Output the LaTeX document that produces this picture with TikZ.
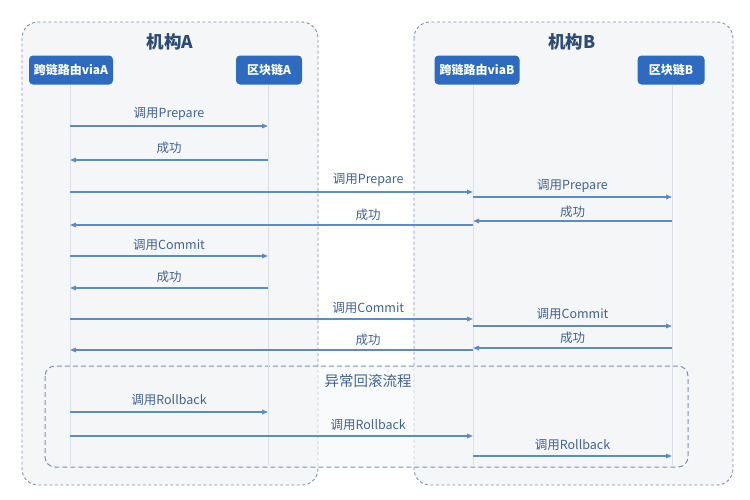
\documentclass[tikz,border=0pt]{standalone}
\usepackage{fontspec}
\setmainfont{Noto Sans CJK SC}
\usetikzlibrary{arrows.meta,calc}
\definecolor{boxfill}{HTML}{F5F6F8}
\definecolor{boxline}{HTML}{7E92AC}
\definecolor{nodeblue}{HTML}{2D6BC3}
\definecolor{arrowc}{HTML}{5A8CC6}
\definecolor{lblc}{HTML}{3F6396}
\definecolor{titlec}{HTML}{2C4C76}
\definecolor{lifec}{HTML}{DCE0E6}
\tikzset{
  orgbox/.style={draw=boxline, dash pattern=on 3pt off 2.5pt, fill=boxfill, rounded corners=16pt, line width=0.9pt},
  rbbox/.style={draw=boxline, dash pattern=on 5pt off 3pt, fill=boxfill, fill opacity=0.6, draw opacity=1, rounded corners=10pt, line width=1pt},
  actor/.style={fill=nodeblue, text=white, rounded corners=4pt, minimum height=29pt, inner sep=2pt, font=\fontsize{12}{14}\selectfont\bfseries},
  life/.style={draw=lifec, line width=0.8pt},
  msg/.style={draw=arrowc, line width=1.4pt, -{Triangle[length=6pt,width=4.5pt]}},
  lbl/.style={text=lblc, font=\fontsize{12.5}{14}\selectfont, inner sep=1pt},
  ttl/.style={text=titlec, font=\fontsize{17.5}{20}\selectfont\bfseries},
}
\begin{document}
\begin{tikzpicture}[x=1pt,y=-1pt]
\useasboundingbox (0,0) rectangle (750,499);
% organisation boxes
\draw[orgbox] (22,22) rectangle (318,485);
\draw[orgbox] (414,22) rectangle (733,485);
\node[ttl] (ta) at (170,42) {机构A};
\node[ttl] (tb) at (572,42) {机构B};
% rollback box
\draw[rbbox] (45,366) rectangle (688,467);
\node[lbl, font=\fontsize{14.5}{16}\selectfont] (rbt) at (368,381) {异常回滚流程};
% actors
\node[actor, minimum width=84pt] (ra) at (71,70) {跨链路由viaA};
\node[actor, minimum width=66pt] (ca) at (269,70) {区块链A};
\node[actor, minimum width=85pt] (rb) at (477,70) {跨链路由viaB};
\node[actor, minimum width=67pt] (cb) at (671,70) {区块链B};
% lifelines
\coordinate (ra-e) at (70,465);
\coordinate (ca-e) at (268,465);
\coordinate (rb-e) at (473,465);
\coordinate (cb-e) at (672,465);
\draw[life] (ra-e |- ra.south) -- (ra-e);
\draw[life] (ca-e |- ca.south) -- (ca-e);
\draw[life] (rb-e |- rb.south) -- (rb-e);
\draw[life] (cb-e |- cb.south) -- (cb-e);
% messages
\draw[msg] (ra-e |- 0,126) -- node[lbl, above=4pt] {调用Prepare} (ca-e |- 0,126);
\draw[msg] (ca-e |- 0,160) -- node[lbl, above=5pt] {成功} (ra-e |- 0,160);
\draw[msg] (ra-e |- 0,192) -- node[lbl, above=4pt, pos=0.74] {调用Prepare} (rb-e |- 0,192);
\draw[msg] (rb-e |- 0,197) -- node[lbl, above=3pt] {调用Prepare} (cb-e |- 0,197);
\draw[msg] (cb-e |- 0,221) -- node[lbl, above=2pt] {成功} (rb-e |- 0,221);
\draw[msg] (rb-e |- 0,225) -- node[lbl, above=3pt, pos=0.26] {成功} (ra-e |- 0,225);
\draw[msg] (ra-e |- 0,256) -- node[lbl, above=4pt] {调用Commit} (ca-e |- 0,256);
\draw[msg] (ca-e |- 0,288) -- node[lbl, above=4pt] {成功} (ra-e |- 0,288);
\draw[msg] (ra-e |- 0,319) -- node[lbl, above=4pt, pos=0.74] {调用Commit} (rb-e |- 0,319);
\draw[msg] (rb-e |- 0,326) -- node[lbl, above=5pt] {调用Commit} (cb-e |- 0,326);
\draw[msg] (cb-e |- 0,348) -- node[lbl, above=3pt] {成功} (rb-e |- 0,348);
\draw[msg] (rb-e |- 0,350) -- node[lbl, above=3pt, pos=0.26] {成功} (ra-e |- 0,350);
\draw[msg] (ra-e |- 0,412) -- node[lbl, above=5pt] {调用Rollback} (ca-e |- 0,412);
\draw[msg] (ra-e |- 0,436) -- node[lbl, above=4pt, pos=0.74] {调用Rollback} (rb-e |- 0,436);
\draw[msg] (rb-e |- 0,456) -- node[lbl, above=4pt] {调用Rollback} (cb-e |- 0,456);
\end{tikzpicture}
\end{document}
